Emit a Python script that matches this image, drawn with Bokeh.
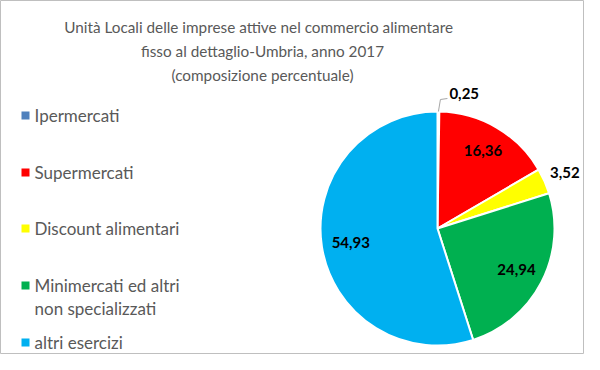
import math
from bokeh.plotting import figure
from bokeh.models import ColumnDataSource, Range1d
from bokeh.core.properties import value
from bokeh.embed import file_html
from bokeh.resources import INLINE

# ---- data ----
categories = ["Ipermercati", "Supermercati", "Discount alimentari",
              "Minimercati ed altri\nnon specializzati", "altri esercizi"]
values = [0.25, 16.36, 3.52, 24.94, 54.93]
labels = ["0,25", "16,36", "3,52", "24,94", "54,93"]
colors = ["#4F81BD", "#FF0000", "#FFFF00", "#00B050", "#00B0F0"]
title_lines = ["Unità Locali delle imprese attive  nel commercio  alimentare",
               "fisso al dettaglio-Umbria, anno 2017",
               "(composizione percentuale)"]

W, H = 584, 354
def Y(yi):
    return 370 - yi

p = figure(width=W, height=H, output_backend="svg", toolbar_location=None,
           x_range=Range1d(0, W), y_range=Range1d(370 - H, 370),
           min_border=0, min_border_left=0, min_border_right=0,
           min_border_top=0, min_border_bottom=0)
p.axis.visible = False
p.grid.visible = False
p.outline_line_color = "#BFBFBF"
p.outline_line_width = 1
p.background_fill_color = "white"
p.border_fill_color = "white"

FONT = "Lato"
GRAY = "#595959"

# title
p.text(x=[262] * 3, y=[Y(26), Y(50), Y(74)], text=title_lines,
       text_font=value(FONT), text_font_size="15.3px", text_color=GRAY,
       text_align="center", text_baseline="middle")

# pie
cx, cy, R = 437, Y(228), 117
total = sum(values)
starts, ends, mids = [], [], []
cum = 0.0
for v in values:
    a0 = math.pi / 2 - 2 * math.pi * cum / total
    cum += v
    a1 = math.pi / 2 - 2 * math.pi * cum / total
    starts.append(a0)
    ends.append(a1)
    mids.append((a0 + a1) / 2)

src = ColumnDataSource(dict(start=starts, end=ends, color=colors))
p.wedge(x=cx, y=cy, radius=R, radius_units="screen", start_angle="start",
        end_angle="end", direction="clock", fill_color="color",
        line_color="white", line_width=2, source=src)

# data labels (positions derived from slice mid-angles)
rfac = [None, 0.77, 1.19, 0.76, 0.75]
lx, ly, lt = [], [], []
for i in range(1, 5):
    lx.append(cx + rfac[i] * R * math.cos(mids[i]))
    ly.append(cy + rfac[i] * R * math.sin(mids[i]))
    lt.append(labels[i])
p.text(x=lx, y=ly, text=lt, text_font=value(FONT), text_font_style="bold",
       text_font_size="15px", text_color="black", text_align="center",
       text_baseline="middle")

# small slice label with leader line
ex = cx + R * math.cos(mids[0])
ey = cy + R * math.sin(mids[0])
p.line(x=[ex, ex + 2, ex + 9], y=[ey, ey + 12, ey + 13], line_color="#A6A6A6", line_width=1)
p.text(x=[ex + 11], y=[ey + 18], text=[labels[0]], text_font=value(FONT),
       text_font_style="bold", text_font_size="15px", text_color="black",
       text_align="left", text_baseline="middle")

# legend
leg_y = [115, 172, 228, 285, 342]
p.scatter(x=[25] * 5, y=[Y(v) for v in leg_y], marker="square", size=8,
          fill_color=colors, line_color=None)
leg_text_y = []
leg_texts = []
for yy, c in zip(leg_y, categories):
    parts = c.split("\n")
    for k, part in enumerate(parts):
        leg_text_y.append(Y(yy + 23 * k))
        leg_texts.append(part)
p.text(x=[34] * len(leg_texts), y=leg_text_y, text=leg_texts,
       text_font=value(FONT), text_font_size="17px", text_color=GRAY,
       text_align="left", text_baseline="middle")

open("out.html", "w").write(file_html(p, INLINE))
